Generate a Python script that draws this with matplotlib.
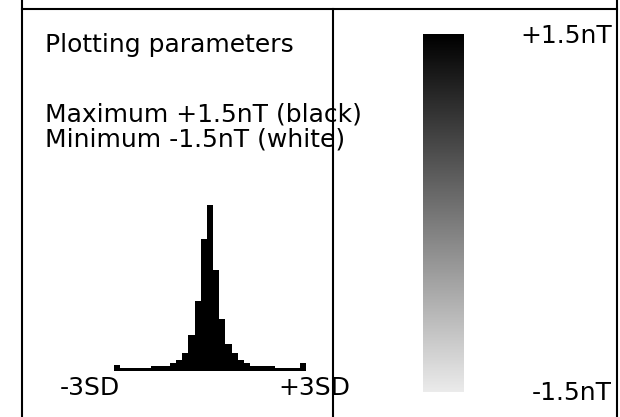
import numpy as np
import matplotlib.pyplot as plt
from matplotlib.colors import LinearSegmentedColormap

# histogram of the data, in SD units from -3 to +3 (31 bins)
bin_edges = np.linspace(-3, 3, 32)
counts = [6, 3.3, 3.3, 3.3, 3.3, 3.3, 5.3, 5.3, 5.3, 8.3,
          11.5, 17.7, 36, 70, 132, 166, 101, 52, 27, 17.7,
          11.5, 8.3, 5.3, 5.3, 5.3, 5.3, 3.3, 3.3, 3.3, 3.3, 8.3]

vmin, vmax = -1.5, 1.5
title = "Plotting parameters"
max_text = "Maximum +1.5nT (black)"
min_text = "Minimum -1.5nT (white)"
hist_labels = ["-3SD", "+3SD"]
cbar_labels = ["+1.5nT", "-1.5nT"]

W, H = 620, 417
fig = plt.figure(figsize=(W / 100, H / 100), dpi=100)
plt.rcParams['font.family'] = 'DejaVu Sans'

# background axes in pixel coordinates for frame and text
bg = fig.add_axes([0, 0, 1, 1])
bg.set_xlim(0, W)
bg.set_ylim(H, 0)
bg.axis('off')

lw = 1.5
bg.plot([22, 617], [9, 9], color='black', lw=lw)
bg.plot([22, 22], [0, H], color='black', lw=lw)
bg.plot([617, 617], [0, H], color='black', lw=lw)
bg.plot([333, 333], [9, H], color='black', lw=lw)

fs = 18
bg.text(45, 52, title, fontsize=fs, va='baseline')
bg.text(45, 121.5, max_text, fontsize=fs, va='baseline')
bg.text(45, 146.5, min_text, fontsize=fs, va='baseline')
bg.text(60, 395, hist_labels[0], fontsize=fs, va='baseline')
bg.text(278, 395, hist_labels[1], fontsize=fs, va='baseline')
bg.text(612, 42.5, cbar_labels[0], fontsize=fs, va='baseline', ha='right')
bg.text(612, 400, cbar_labels[1], fontsize=fs, va='baseline', ha='right')

# histogram
hx0, hx1, hbase, htop = 114, 306, 371, 200
hax = fig.add_axes([hx0 / W, (H - hbase) / H, (hx1 - hx0) / W, (hbase - htop) / H])
hax.bar(bin_edges[:-1], counts, width=np.diff(bin_edges), align='edge',
        color='black', linewidth=0)
hax.set_xlim(-3, 3)
hax.set_ylim(0, hbase - htop)
hax.axis('off')

# grey scale bar
cx0, cx1, cy0, cy1 = 423, 463, 34, 392
cax = fig.add_axes([cx0 / W, (H - cy1) / H, (cx1 - cx0) / W, (cy1 - cy0) / H])
cmap = LinearSegmentedColormap.from_list('grey', ['#ebebeb', '#000000'])
grad = np.linspace(vmin, vmax, 256).reshape(-1, 1)
cax.imshow(grad, cmap=cmap, vmin=vmin, vmax=vmax, aspect='auto', origin='lower',
           extent=[0, 1, vmin, vmax])
cax.axis('off')

fig.savefig('out.png', dpi=100)
